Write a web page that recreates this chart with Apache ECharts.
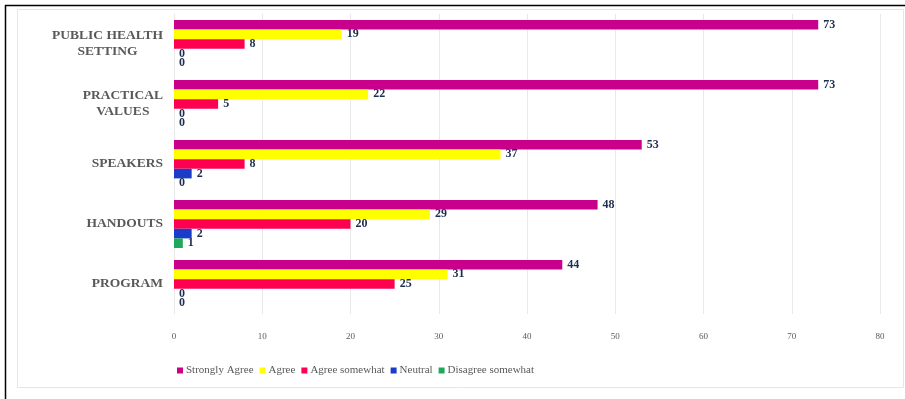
<!DOCTYPE html>
<html>
<head>
<meta charset="utf-8">
<script src="https://cdn.jsdelivr.net/npm/echarts@6/dist/echarts.min.js"></script>
<style>html,body{margin:0;padding:0;background:#fff;}#c{width:905px;height:399px;}</style>
</head>
<body>
<div id="c"></div>
<script>
const categories = ['PUBLIC HEALTH\nSETTING', 'PRACTICAL\nVALUES', 'SPEAKERS', 'HANDOUTS', 'PROGRAM'];
const seriesNames = ['Strongly Agree', 'Agree', 'Agree somewhat', 'Neutral', 'Disagree somewhat'];
const stronglyAgree = [73, 73, 53, 48, 44];
const agree = [19, 22, 37, 29, 31];
const agreeSomewhat = [8, 5, 8, 20, 25];
const neutral = [0, 0, 2, 2, 0];
const disagreeSomewhat = [0, 0, 0, 1, 0];
const xTicks = [0, 10, 20, 30, 40, 50, 60, 70, 80];

const colors = ['#C8008C', '#FFFF00', '#FF0050', '#1A3CC8', '#1FA85A'];
const serif = '"Liberation Serif", "DejaVu Serif", serif';
const values = [stronglyAgree, agree, agreeSomewhat, neutral, disagreeSomewhat];

const chart = echarts.init(document.getElementById('c'));
chart.setOption({
  animation: false,
  color: colors,
  grid: { left: 174, right: 25, top: 14, height: 300, containLabel: false },
  graphic: [
    { type: 'rect', shape: { x: 17.5, y: 9.5, width: 886, height: 378 }, style: { fill: 'none', stroke: '#E6E6E6', lineWidth: 1 }, silent: true },
    { type: 'line', shape: { x1: 5, y1: 5.5, x2: 905, y2: 5.5 }, style: { stroke: '#000', lineWidth: 1.5 }, silent: true },
    { type: 'line', shape: { x1: 5.5, y1: 5, x2: 5.5, y2: 399 }, style: { stroke: '#000', lineWidth: 1.5 }, silent: true }
  ],
  legend: {
    data: seriesNames,
    left: 172,
    top: 360,
    itemWidth: 6,
    itemHeight: 6,
    itemGap: 6,
    icon: 'rect',
    textStyle: { fontFamily: serif, fontSize: 11, color: '#595959', padding: [0, 0, 0, -2] }
  },
  xAxis: {
    type: 'value',
    min: 0,
    max: 80,
    interval: 10,
    axisLine: { show: false },
    axisTick: { show: false },
    splitLine: { lineStyle: { color: '#E9E9E9', width: 1 } },
    axisLabel: { fontFamily: serif, fontSize: 9, color: '#595959', margin: 18,
      formatter: v => xTicks.includes(v) ? String(v) : '' }
  },
  yAxis: {
    type: 'category',
    data: categories,
    inverse: true,
    axisLine: { show: false },
    axisTick: { show: false },
    axisLabel: {
      margin: 11,
      formatter: v => v.split('\n').map(s => '{c|' + s + '}').join('\n'),
      rich: { c: { align: 'center', fontFamily: serif, fontSize: 13.5, fontWeight: 'bold', color: '#595959', lineHeight: 16 } }
    }
  },
  series: seriesNames.map((n, i) => ({
    name: n,
    type: 'bar',
    data: values[i],
    barGap: '0%',
    barCategoryGap: '20%',
    label: { show: true, position: 'right', distance: 5, fontFamily: serif, fontSize: 12, fontWeight: 'bold', color: '#1F2D50' }
  }))
});
</script>
</body>
</html>
